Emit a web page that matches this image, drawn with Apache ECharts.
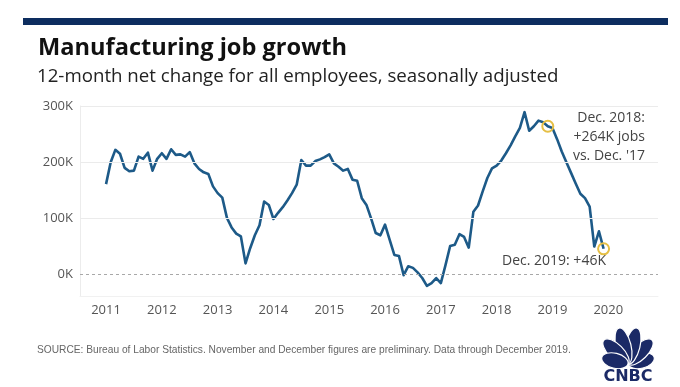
<!DOCTYPE html>
<html>
<head>
<meta charset="utf-8">
<script src="https://cdn.jsdelivr.net/npm/echarts@6/dist/echarts.min.js"></script>
<style>
html,body{margin:0;padding:0;background:#fff;}
#c{width:680px;height:387px;}
</style>
</head>
<body>
<div id="c"></div>
<script>
// Months since Jan 2011 (0 = Jan 2011 ... 107 = Dec 2019)
const yearLabels = ['2011','2012','2013','2014','2015','2016','2017','2018','2019','2020'];
const yTickValues = [0, 100000, 200000, 300000];
// 12-month net change, thousands
const v2011 = [161, 200, 222, 215, 190, 184, 185, 210, 206, 217, 185, 206];
const v2012 = [216, 206, 223, 213, 214, 210, 218, 198, 188, 182, 179, 157];
const v2013 = [145, 137, 101, 84, 73, 68, 20, 47, 70, 88, 130, 124];
const v2014 = [99, 110, 120, 132, 145, 160, 204, 194, 194, 202, 205, 209];
const v2015 = [214, 198, 192, 185, 188, 169, 167, 136, 124, 100, 74, 70];
const v2016 = [89, 62, 35, 33, -1, 15, 12, 4, -6, -20, -15, -6];
const v2017 = [-15, 17, 51, 53, 72, 67, 48, 112, 123, 148, 172, 189];
const v2018 = [194, 203, 216, 230, 246, 261, 289, 256, 264, 274, 271, 264];
const v2019 = [261, 241, 219, 200, 181, 162, 144, 136, 121, 50, 77, 46];
const values = [].concat(v2011, v2012, v2013, v2014, v2015, v2016, v2017, v2018, v2019);
const seriesData = values.map((v, i) => [i, v * 1000]);
const note1Idx = 95, note2Idx = 107;

const chart = echarts.init(document.getElementById('c'), null, {renderer: 'canvas'});
const font = '"Open Sans", Lato, sans-serif';
const navy = '#1b2a66';

// CNBC peacock feathers
const bx = 628, by = 364;
const feathers = [
  {a: -76, L: 27}, {a: -45, L: 34}, {a: -14, L: 37},
  {a: 14, L: 37}, {a: 45, L: 34}, {a: 76, L: 27}
];
const feathersEl = feathers.map(f => ({
  type: 'ellipse',
  shape: {cx: bx, cy: by - f.L / 2, rx: 7.5, ry: f.L / 2},
  rotation: f.a * Math.PI / 180,
  originX: bx, originY: by,
  style: {fill: navy, stroke: '#fff', lineWidth: 1.2},
  silent: true
}));

chart.setOption({
  animation: false,
  backgroundColor: '#ffffff',
  grid: {left: 80, right: 22, top: 106, bottom: 91, containLabel: false},
  xAxis: {
    type: 'value',
    min: -5.6, max: 118.7,
    axisLine: {show: true, onZero: false, lineStyle: {color: '#f1f1f1'}},
    axisTick: {show: false},
    splitLine: {show: false},
    axisLabel: {
      customValues: yearLabels.map((y, i) => i * 12),
      formatter: v => yearLabels[Math.round(v / 12)],
      color: '#555', fontSize: 13, fontFamily: font, margin: 8
    }
  },
  yAxis: {
    type: 'value',
    min: -38000, max: 300000,
    axisLine: {show: true, onZero: false, lineStyle: {color: '#ececec'}},
    axisTick: {show: false},
    splitLine: {show: false},
    axisLabel: {
      customValues: yTickValues,
      formatter: v => (v / 1000) + 'K',
      color: '#555', fontSize: 13, fontFamily: font, margin: 7
    }
  },
  series: [
    {
      type: 'line', data: seriesData, showSymbol: false, silent: true,
      lineStyle: {opacity: 0}, z: 1,
      markLine: {
        silent: true, symbol: 'none', label: {show: false},
        data: [
          {yAxis: 100000, lineStyle: {color: '#ebebeb', type: 'solid', width: 1}},
          {yAxis: 200000, lineStyle: {color: '#ebebeb', type: 'solid', width: 1}},
          {yAxis: 300000, lineStyle: {color: '#ebebeb', type: 'solid', width: 1}},
          {yAxis: 0, lineStyle: {color: '#a8a8a8', type: [3, 3], width: 1}}
        ]
      }
    },
    {
      type: 'line', data: seriesData, showSymbol: false, silent: true, z: 3,
      lineStyle: {color: '#1d5a88', width: 2.6, join: 'round'},
      markPoint: {
        silent: true,
        symbol: 'circle', symbolSize: 11,
        itemStyle: {color: 'rgba(0,0,0,0)', borderColor: '#e5bf45', borderWidth: 2},
        label: {show: false},
        data: [{coord: seriesData[note1Idx]}, {coord: seriesData[note2Idx]}]
      }
    }
  ],
  graphic: [
    {type: 'rect', shape: {x: 23, y: 18, width: 645, height: 7}, style: {fill: '#0d2d5f'}, silent: true},
    {type: 'text', x: 38, y: 36, style: {text: 'Manufacturing job growth', font: 'bold 23.6px ' + font, fill: '#111'}},
    {type: 'text', x: 37, y: 67, style: {text: '12-month net change for all employees, seasonally adjusted', font: '18.7px ' + font, fill: '#222'}},
    {type: 'text', x: 645, y: 109, style: {text: "Dec. 2018:\n+264K jobs\nvs. Dec. '17", font: '14px ' + font, fill: '#444', align: 'right', lineHeight: 19}},
    {type: 'text', x: 502, y: 254, style: {text: 'Dec. 2019: +46K', font: '14px ' + font, fill: '#444'}},
    {type: 'text', x: 37, y: 345, style: {text: 'SOURCE: Bureau of Labor Statistics. November and December figures are preliminary. Data through December 2019.', font: '10.2px "Liberation Sans", sans-serif', fill: '#666'}},
    {type: 'group', children: feathersEl},
    {type: 'text', x: 628, y: 369, style: {text: 'CNBC', font: 'bold 16px "DejaVu Sans", sans-serif', fill: navy, align: 'center'}}
  ]
});
</script>
</body>
</html>
